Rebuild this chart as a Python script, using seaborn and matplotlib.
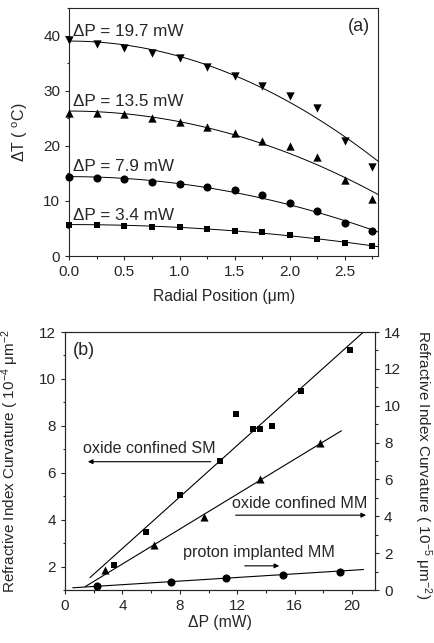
import numpy as np
import pandas as pd
import matplotlib
matplotlib.use("Agg")
import matplotlib.pyplot as plt
import seaborn as sns
from matplotlib.ticker import MultipleLocator

# ---- panel (a): temperature rise vs radial position ----
radial_pos = [0.0, 0.25, 0.5, 0.75, 1.0, 1.25, 1.5, 1.75, 2.0, 2.25, 2.5, 2.75]
power_labels = ["19.7", "13.5", "7.9", "3.4"]
dT_19_7 = [39.2, 38.5, 37.7, 36.9, 36.0, 34.3, 32.6, 30.9, 29.1, 26.8, 20.9, 16.2]
dT_13_5 = [25.9, 25.9, 25.7, 25.1, 24.3, 23.4, 22.3, 20.9, 19.9, 17.9, 13.8, 10.3]
dT_7_9 = [14.4, 14.2, 13.9, 13.5, 13.0, 12.6, 11.9, 11.0, 9.7, 8.1, 6.0, 4.6]
dT_3_4 = [5.7, 5.6, 5.4, 5.3, 5.2, 4.9, 4.6, 4.3, 3.8, 3.1, 2.4, 1.8]
# parabolic fit: dT = T0 - k * r^2
fit_T0 = [39.0, 26.3, 14.4, 5.7]
fit_k = [2.78, 1.93, 1.28, 0.51]
label_y = [40.7, 28.1, 16.2, 7.3]

# ---- panel (b): refractive index curvature vs dP ----
sm_power = [3.42, 5.63, 8.02, 10.77, 11.9, 13.1, 13.6, 14.4, 16.44, 19.88]
sm_curv = [2.07, 3.49, 5.07, 6.5, 8.5, 7.85, 7.85, 7.99, 9.47, 11.22]
mm_power = [2.81, 6.21, 9.7, 13.6, 17.74]
mm_curv = [1.06, 2.42, 3.98, 6.02, 7.97]
pi_power = [2.26, 7.4, 11.2, 15.2, 19.14]
pi_curv = [0.24, 0.46, 0.66, 0.81, 1.0]
# linear fit end points
sm_fit_power = [1.74, 20.8]
sm_fit_curv = [1.53, 12.0]
mm_fit_power = [1.4, 19.26]
mm_fit_curv = [0.18, 8.64]
pi_fit_power = [0.54, 20.8]
pi_fit_curv = [0.12, 1.11]

sns.set_style("ticks")
plt.rcParams["font.family"] = ["Liberation Sans", "DejaVu Sans"]
plt.rcParams["mathtext.fontset"] = "custom"
plt.rcParams["mathtext.rm"] = "Liberation Sans"
plt.rcParams["mathtext.it"] = "Liberation Sans:italic"
plt.rcParams["axes.linewidth"] = 0.8
plt.rcParams["xtick.major.width"] = 0.8
plt.rcParams["ytick.major.width"] = 0.8
plt.rcParams["xtick.minor.width"] = 0.8
plt.rcParams["ytick.minor.width"] = 0.8
plt.rcParams["xtick.major.size"] = 3
plt.rcParams["ytick.major.size"] = 3
plt.rcParams["xtick.minor.size"] = 1.8
plt.rcParams["ytick.minor.size"] = 1.8

W, H = 434, 643
fig = plt.figure(figsize=(W / 100, H / 100), dpi=100)


def rect(l, t, r, b):
    return [l / W, 1 - b / H, (r - l) / W, (b - t) / H]


# panel a
axa = fig.add_axes(rect(69.3, 8, 378, 256))
series = [dT_19_7, dT_13_5, dT_7_9, dT_3_4]
markers = ["v", "^", "o", "s"]
msizes = [36, 36, 34, 24]
r_fit = np.linspace(0, 2.8, 60)
for vals, m, s, T0, k, lab, ly in zip(series, markers, msizes, fit_T0, fit_k, power_labels, label_y):
    df = pd.DataFrame({"r": radial_pos, "dT": vals})
    sns.scatterplot(data=df, x="r", y="dT", marker=m, s=s, color="black",
                    edgecolor="black", linewidth=0, ax=axa, zorder=3, clip_on=False)
    fit = pd.DataFrame({"r": r_fit, "dT": T0 - k * r_fit ** 2})
    sns.lineplot(data=fit, x="r", y="dT", color="black", lw=0.7, ax=axa)
    axa.text(0.03, ly, "\u0394P = " + lab + " mW", fontsize=12.3, va="center", ha="left")

axa.set_xlim(0, 2.8)
axa.set_ylim(0, 45)
axa.xaxis.set_major_locator(MultipleLocator(0.5))
axa.xaxis.set_minor_locator(MultipleLocator(0.25))
axa.yaxis.set_major_locator(MultipleLocator(10))
axa.yaxis.set_minor_locator(MultipleLocator(5))
axa.tick_params(labelsize=11)
axa.set_xlabel("")
axa.set_ylabel("")
axa.text(2.73, 41.7, "(a)", fontsize=13, ha="right", va="center")
fig.text((69.3 + 378) / 2 / W, 1 - 296 / H, "Radial Position (\u03bcm)", fontsize=11.3,
         ha="center", va="center")
fig.text(20 / W, 1 - 132 / H, "\u0394T ( $^{\\mathrm{o}}$C)", fontsize=11.5,
         rotation=90, ha="center", va="center")

# panel b
axb = fig.add_axes(rect(65, 332, 375, 590))
axr = axb.twinx()
sns.scatterplot(x=sm_power, y=sm_curv, marker="s", s=22, color="black", linewidth=0,
                ax=axb, zorder=3)
sns.lineplot(x=sm_fit_power, y=sm_fit_curv, color="black", lw=0.8, ax=axb)
sns.scatterplot(x=mm_power, y=mm_curv, marker="^", s=34, color="black", linewidth=0,
                ax=axr, zorder=3)
sns.lineplot(x=mm_fit_power, y=mm_fit_curv, color="black", lw=0.8, ax=axr)
sns.scatterplot(x=pi_power, y=pi_curv, marker="o", s=34, color="black", linewidth=0,
                ax=axr, zorder=3)
sns.lineplot(x=pi_fit_power, y=pi_fit_curv, color="black", lw=0.8, ax=axr)

axb.set_xlim(0, 21.6)
axb.set_ylim(1, 12)
axr.set_ylim(0, 14)
axb.xaxis.set_major_locator(MultipleLocator(4))
axb.xaxis.set_minor_locator(MultipleLocator(2))
axb.yaxis.set_major_locator(MultipleLocator(2))
axb.yaxis.set_minor_locator(MultipleLocator(1))
axr.yaxis.set_major_locator(MultipleLocator(2))
axr.yaxis.set_minor_locator(MultipleLocator(1))
axb.tick_params(labelsize=11)
axr.tick_params(labelsize=11)
for a in (axb, axr):
    a.set_xlabel("")
    a.set_ylabel("")
    for sp in a.spines.values():
        sp.set_visible(True)

axb.text(0.56, 11.23, "(b)", fontsize=13, ha="left", va="center")
axb.text(1.23, 7.04, "oxide confined SM", fontsize=11.6, ha="left", va="center")
axb.annotate("", xy=(1.4, 6.47), xytext=(10.35, 6.47),
             arrowprops=dict(arrowstyle="-|>", lw=0.8, color="black", mutation_scale=7))
axb.text(11.63, 4.69, "oxide confined MM", fontsize=11.6, ha="left", va="center")
axb.annotate("", xy=(21.17, 4.19), xytext=(11.7, 4.19), annotation_clip=False,
             arrowprops=dict(arrowstyle="-|>", lw=0.8, color="black", mutation_scale=7))
axb.text(8.21, 2.59, "proton implanted MM", fontsize=11.6, ha="left", va="center")
axb.annotate("", xy=(15.12, 2.03), xytext=(12.33, 2.03),
             arrowprops=dict(arrowstyle="-|>", lw=0.8, color="black", mutation_scale=7))

fig.text((65 + 375) / 2 / W, 1 - 623 / H, "\u0394P (mW)", fontsize=11.3,
         ha="center", va="center")
fig.text(10 / W, 1 - 461 / H, "Refractive Index Curvature ( 10$^{-4}$ \u03bcm$^{-2}$",
         fontsize=11, rotation=90, ha="center", va="center")
fig.text(423 / W, 1 - 465 / H, "Refractive Index Curvature ( 10$^{-5}$ \u03bcm$^{-2}$)",
         fontsize=11, rotation=270, ha="center", va="center")

fig.savefig("out.png", dpi=100)
